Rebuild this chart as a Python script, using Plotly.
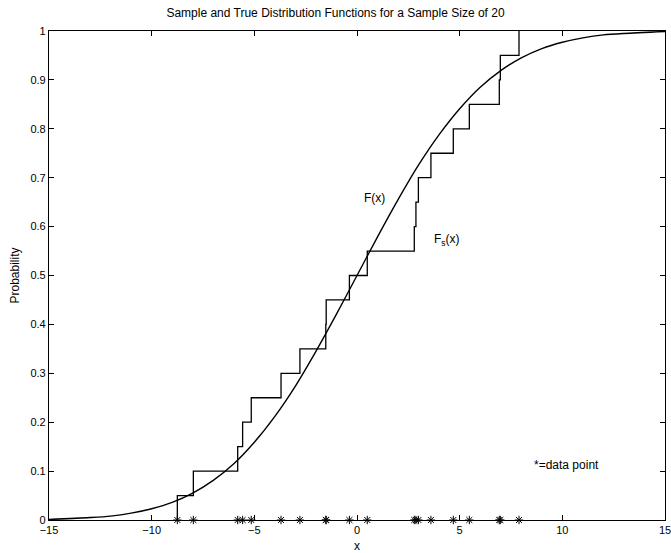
import plotly.graph_objects as go

# Sample data points (read from the asterisks / step locations)
data_points = [-8.75, -7.97, -5.81, -5.57, -5.15, -3.70, -2.78, -1.52, -1.50, -0.37,
               0.50, 2.79, 2.87, 2.99, 3.60, 4.69, 5.47, 6.93, 6.98, 7.89]
# Sample distribution function values after each data point
fs_values = [0.05, 0.10, 0.15, 0.20, 0.25, 0.30, 0.35, 0.40, 0.45, 0.50,
             0.55, 0.60, 0.65, 0.70, 0.75, 0.80, 0.85, 0.90, 0.95, 1.00]

# True distribution function
true_x = [-15, -13, -12, -11, -10, -9, -8, -7, -6, -5, -4, -3, -2, -1, 0,
          1, 2, 3, 4, 5, 6, 7, 8, 9, 10, 11, 12, 13, 15]
true_f = [0.001, 0.005, 0.008, 0.014, 0.023, 0.036, 0.055, 0.081, 0.115, 0.159,
          0.212, 0.274, 0.345, 0.421, 0.500, 0.579, 0.655, 0.726, 0.788, 0.841,
          0.885, 0.919, 0.945, 0.964, 0.977, 0.986, 0.992, 0.995, 0.999]

x_ticks = [-15, -10, -5, 0, 5, 10, 15]
y_ticks = [0, 0.1, 0.2, 0.3, 0.4, 0.5, 0.6, 0.7, 0.8, 0.9, 1]
y_tick_labels = ["0", "0.1", "0.2", "0.3", "0.4", "0.5", "0.6", "0.7", "0.8", "0.9", "1"]

fig = go.Figure()

fig.add_trace(go.Scatter(x=true_x, y=true_f, mode="lines",
                         line=dict(color="black", width=1.4, shape="spline", smoothing=0.8),
                         showlegend=False, hoverinfo="skip"))

fig.add_trace(go.Scatter(x=[data_points[0]] + data_points, y=[0] + fs_values, mode="lines",
                         line=dict(color="black", width=1.3, shape="hv"),
                         showlegend=False, hoverinfo="skip"))

fig.add_trace(go.Scatter(x=data_points, y=[0] * len(data_points), mode="markers",
                         marker=dict(symbol="asterisk-open", size=7, color="black",
                                     line=dict(color="black", width=1)),
                         showlegend=False, cliponaxis=False))

font = "Liberation Sans, Arial, sans-serif"

annotations = [
    dict(x=0.24, y=0.658, text="F(x)", showarrow=False, xanchor="left", yanchor="middle",
         font=dict(size=12, color="black", family=font)),
    dict(x=3.65, y=0.573, text="F<sub>s</sub>(x)", showarrow=False, xanchor="left",
         yanchor="middle", font=dict(size=12, color="black", family=font)),
    dict(x=8.5, y=0.112, text="*=data point", showarrow=False, xanchor="left",
         yanchor="middle", font=dict(size=12, color="black", family=font)),
    dict(x=0.5, xref="paper", y=0, yref="paper", yshift=-26, text="x", showarrow=False,
         xanchor="center", yanchor="middle", font=dict(size=12, color="black", family=font)),
    dict(x=0, xref="paper", xshift=-35, y=0.5, yref="paper", text="Probability",
         textangle=-90, showarrow=False, xanchor="center", yanchor="middle",
         font=dict(size=12, color="black", family=font)),
]

fig.update_layout(
    width=671, height=553,
    margin=dict(l=49, r=6, t=31, b=33),
    paper_bgcolor="white", plot_bgcolor="white",
    title=dict(text="Sample and True Distribution Functions for a Sample Size of 20",
               x=0.5, xanchor="center", y=0.985, yanchor="top",
               font=dict(size=12, color="black", family=font)),
    annotations=annotations,
    font=dict(family=font, color="black", size=11),
)

fig.update_xaxes(range=[-15, 15], tickvals=x_ticks, ticktext=[str(v).replace("-", "\u2212") for v in x_ticks],
                 showgrid=False, zeroline=False, showline=True, linecolor="black", linewidth=1.2,
                 mirror="allticks", ticks="inside", ticklen=5, tickcolor="black",
                 ticklabeloverflow="allow", automargin=False,
                 tickfont=dict(size=11))
fig.update_yaxes(range=[0, 1], tickvals=y_ticks, ticktext=y_tick_labels,
                 showgrid=False, zeroline=False, showline=True, linecolor="black", linewidth=1.2,
                 mirror="allticks", ticks="inside", ticklen=5, tickcolor="black",
                 ticklabeloverflow="allow", automargin=False,
                 tickfont=dict(size=11))

fig.write_html("out.html")
